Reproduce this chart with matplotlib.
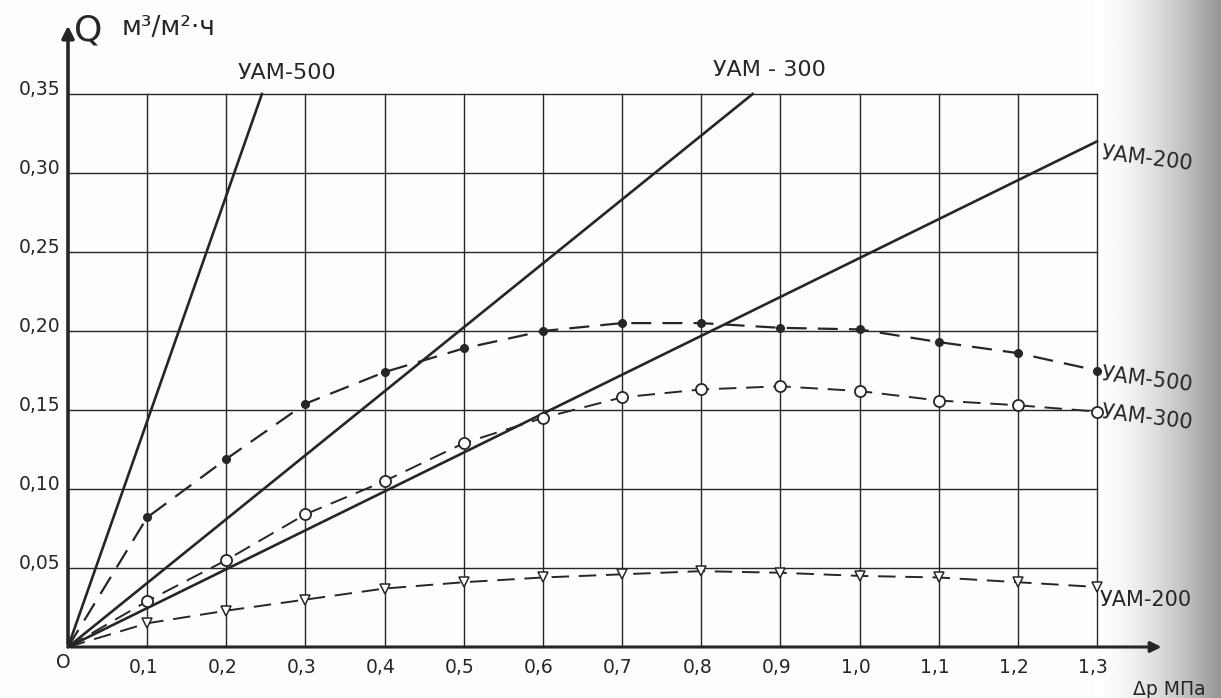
import numpy as np
import matplotlib
matplotlib.use('Agg')
import matplotlib.pyplot as plt

# pressure drop, MPa
DP = [0.1, 0.2, 0.3, 0.4, 0.5, 0.6, 0.7, 0.8, 0.9, 1.0, 1.1, 1.2, 1.3]

# flux with solution (dashed curves)
Q_500 = [0.082, 0.119, 0.154, 0.174, 0.189, 0.200, 0.205, 0.205, 0.202, 0.201, 0.193, 0.186, 0.175]
Q_300 = [0.029, 0.055, 0.084, 0.105, 0.129, 0.145, 0.158, 0.163, 0.165, 0.162, 0.156, 0.153, 0.149]
Q_200 = [0.015, 0.023, 0.030, 0.037, 0.041, 0.044, 0.046, 0.048, 0.047, 0.045, 0.044, 0.041, 0.038]

# water flux (straight solid lines, start and end points)
W_500_X, W_500_Q = [0, 0.245], [0, 0.35]
W_300_X, W_300_Q = [0, 0.865], [0, 0.35]
W_200_X, W_200_Q = [0, 1.3], [0, 0.32]

X_TICKS = [0.1, 0.2, 0.3, 0.4, 0.5, 0.6, 0.7, 0.8, 0.9, 1.0, 1.1, 1.2, 1.3]
X_LABELS = ['0,1', '0,2', '0,3', '0,4', '0,5', '0,6', '0,7', '0,8', '0,9', '1,0', '1,1', '1,2', '1,3']
Y_TICKS = [0.05, 0.10, 0.15, 0.20, 0.25, 0.30, 0.35]
Y_LABELS = ['0,05', '0,10', '0,15', '0,20', '0,25', '0,30', '0,35']

INK = '#262626'

fig = plt.figure(figsize=(12.21, 6.98), dpi=100)
ax = fig.add_axes([0, 0, 1, 1])
fig.patch.set_facecolor('#fdfdfc')
ax.set_facecolor('#fdfdfc')

# pixel -> data mapping of the scan: x=0 at 68px, 0.1 per 79.15px; y=0 at 647px, 0.05 per 79px
x_lo, x_hi = -68 / 791.5, (1221 - 68) / 791.5
y_lo, y_hi = -(698 - 647) / 1580, 647 / 1580

# scanner shadow on the right edge
t = np.linspace(0, 1, 200)
shade = 1 - 0.42 * t ** 1.6
shade = np.tile(shade, (10, 1))
ax.imshow(shade, cmap='gray', vmin=0, vmax=1, aspect='auto', zorder=0,
          extent=[(1095 - 68) / 791.5, x_hi, y_lo, y_hi])

# grid
for y in Y_TICKS:
    ax.plot([0, 1.3], [y, y], color=INK, lw=1.0, zorder=1)
for x in X_TICKS:
    ax.plot([x, x], [0, 0.35], color=INK, lw=1.0, zorder=1)

# axes with arrows
ax.annotate('', xy=(0, 0.395), xytext=(0, 0), zorder=2,
            arrowprops=dict(arrowstyle='-|>', color=INK, lw=2.6, mutation_scale=18))
ax.annotate('', xy=(1.385, 0), xytext=(0, 0), zorder=2,
            arrowprops=dict(arrowstyle='-|>', color=INK, lw=2.2, mutation_scale=16))

# water flux lines
for xs, qs in [(W_500_X, W_500_Q), (W_300_X, W_300_Q), (W_200_X, W_200_Q)]:
    ax.plot(xs, qs, color=INK, lw=1.9, zorder=3)

# solution flux curves
dash = (0, (9, 5))
ax.plot([0] + DP, [0] + Q_500, color=INK, lw=1.6, ls=dash, zorder=3)
ax.plot(DP, Q_500, 'o', color=INK, ms=5.5, zorder=4)
ax.plot([0] + DP, [0] + Q_300, color=INK, lw=1.4, ls=dash, zorder=3)
ax.plot(DP, Q_300, 'o', mfc='#fdfdfc', mec=INK, mew=1.3, ms=8, zorder=4)
ax.plot([0] + DP, [0] + Q_200, color=INK, lw=1.4, ls=dash, zorder=3)
ax.plot(DP, Q_200, 'v', mfc='#fdfdfc', mec=INK, mew=1.1, ms=7, zorder=4)

# tick labels
for y, lab in zip(Y_TICKS, Y_LABELS):
    ax.text(-0.010, y + 0.003, lab, ha='right', va='center', fontsize=13.5, color=INK)
for x, lab in zip(X_TICKS, X_LABELS):
    ax.text(x - 0.005, -0.013, lab, ha='center', va='center', fontsize=13.5, color=INK)
ax.text(-0.006, -0.010, 'O', ha='center', va='center', fontsize=13.5, color=INK)

# axis titles
ax.text(0.008, 0.390, 'Q', ha='left', va='center', fontsize=26, color=INK)
ax.text(0.068, 0.392, 'м³/м²·ч', ha='left', va='center', fontsize=19, color=INK)
ax.text(1.345, -0.027, 'Δр МПа', ha='left', va='center', fontsize=13.5, color=INK)

# curve labels
ax.text(0.277, 0.363, 'УАМ-500', ha='center', va='center', fontsize=16, color=INK)
ax.text(0.886, 0.365, 'УАМ - 300', ha='center', va='center', fontsize=16, color=INK)
ax.text(1.304, 0.309, 'УАМ-200', ha='left', va='center', fontsize=15, color=INK, rotation=-7)
ax.text(1.304, 0.169, 'УАМ-500', ha='left', va='center', fontsize=15, color=INK, rotation=-7)
ax.text(1.304, 0.145, 'УАМ-300', ha='left', va='center', fontsize=15, color=INK, rotation=-7)
ax.text(1.304, 0.030, 'УАМ-200', ha='left', va='center', fontsize=15, color=INK)

ax.set_xlim(x_lo, x_hi)
ax.set_ylim(y_lo, y_hi)
ax.axis('off')

fig.savefig('out.png', dpi=100)
